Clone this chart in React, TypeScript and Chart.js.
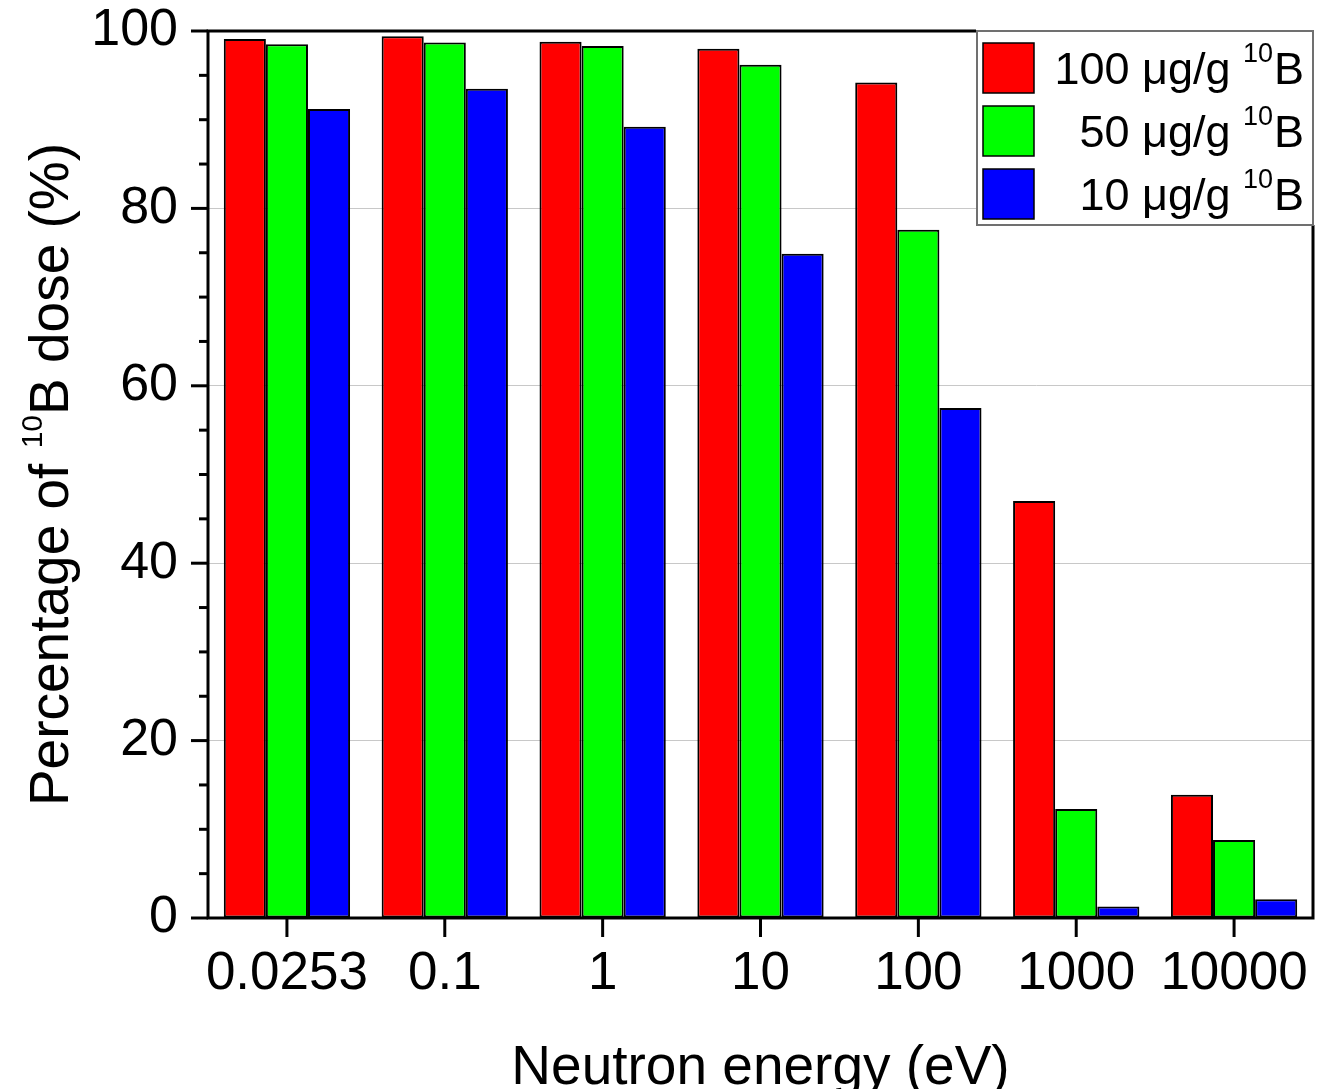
import React, { useEffect, useRef } from "react";
import { Chart, registerables } from "chart.js";

Chart.register(...registerables);

const categories = ["0.0253", "0.1", "1", "10", "100", "1000", "10000"];
const dose100 = [99.1, 99.4, 98.8, 98.0, 94.2, 47.0, 13.9];
const dose50 = [98.5, 98.7, 98.3, 96.2, 77.6, 12.3, 8.8];
const dose10 = [91.2, 93.5, 89.2, 74.9, 57.5, 1.3, 2.1];
const seriesLabels = ["100 μg/g ", "50 μg/g ", "10 μg/g "];
const seriesColors = ["#ff0000", "#00ff00", "#0000ff"];
const yTickValues = [0, 20, 40, 60, 80, 100];

const FONT = "'Liberation Sans', Arial, sans-serif";

const W = 1327;
const H = 1089;

const customPlugin = {
  id: "customDecor",
  afterDraw(chart: any) {
    const { ctx, chartArea: ca, scales } = chart;
    const x = scales.x;
    const y = scales.y;
    ctx.save();
    // frame
    ctx.strokeStyle = "#000";
    ctx.lineWidth = 3;
    ctx.strokeRect(ca.left, ca.top, ca.right - ca.left, ca.bottom - ca.top);
    // y ticks
    ctx.lineWidth = 3;
    for (let v = 0; v <= 100; v += 5) {
      const py = y.getPixelForValue(v);
      const len = v % 20 === 0 ? 17 : 9;
      ctx.beginPath();
      ctx.moveTo(ca.left - len, py);
      ctx.lineTo(ca.left, py);
      ctx.stroke();
    }
    // x ticks
    for (let i = 0; i < categories.length; i++) {
      const px = x.getPixelForValue(i);
      ctx.beginPath();
      ctx.moveTo(px, ca.bottom);
      ctx.lineTo(px, ca.bottom + 19);
      ctx.stroke();
    }
    // x title
    ctx.fillStyle = "#000";
    ctx.font = `55px ${FONT}`;
    ctx.textAlign = "center";
    ctx.textBaseline = "alphabetic";
    ctx.fillText("Neutron energy (eV)", (ca.left + ca.right) / 2, 1084);

    // y title with superscript
    ctx.save();
    ctx.translate(68, (ca.top + ca.bottom) / 2);
    ctx.rotate(-Math.PI / 2);
    ctx.textAlign = "left";
    const p1 = "Percentage of ";
    const sup = "10";
    const p2 = "B dose (%)";
    ctx.font = `55px ${FONT}`;
    const w1 = ctx.measureText(p1).width;
    const w3 = ctx.measureText(p2).width;
    ctx.font = `30px ${FONT}`;
    const w2 = ctx.measureText(sup).width;
    const total = w1 + w2 + w3;
    let cx = -total / 2;
    ctx.font = `55px ${FONT}`;
    ctx.fillText(p1, cx, 0);
    cx += w1;
    ctx.font = `30px ${FONT}`;
    ctx.fillText(sup, cx, -26);
    cx += w2;
    ctx.font = `55px ${FONT}`;
    ctx.fillText(p2, cx, 0);
    ctx.restore();

    // legend
    const lx = 977, ly = 31, lw = 336, lh = 194;
    ctx.fillStyle = "#fff";
    ctx.fillRect(lx - 1, ly - 2, lw + 3, lh + 2);
    ctx.strokeStyle = "#707070";
    ctx.lineWidth = 2;
    ctx.strokeRect(lx, ly, lw, lh);
    const rowCenters = [68, 131, 194];
    const right = 1304;
    for (let i = 0; i < 3; i++) {
      const cy = rowCenters[i];
      ctx.fillStyle = seriesColors[i];
      ctx.fillRect(983, cy - 25, 51, 50);
      ctx.strokeStyle = "#000";
      ctx.lineWidth = 1.5;
      ctx.strokeRect(983, cy - 25, 51, 50);
      const base = cy + 16;
      ctx.fillStyle = "#000";
      ctx.textAlign = "right";
      ctx.font = `45px ${FONT}`;
      const bW = ctx.measureText("B").width;
      ctx.fillText("B", right, base);
      ctx.font = `27px ${FONT}`;
      const sW = ctx.measureText("10").width;
      ctx.fillText("10", right - bW - 1, base - 22);
      ctx.font = `45px ${FONT}`;
      ctx.fillText(seriesLabels[i], right - bW - sW - 1, base);
    }
    ctx.restore();
  },
};

export default function App() {
  const ref = useRef<HTMLCanvasElement | null>(null);
  useEffect(() => {
    if (!ref.current) return;
    const mk = (label: string, data: number[], color: string) => ({
      label,
      data,
      backgroundColor: color,
      borderColor: "#000",
      borderWidth: 2,
      borderSkipped: false,
      categoryPercentage: 0.8,
      barPercentage: 1.0,
    });
    const chart = new Chart(ref.current, {
      type: "bar",
      data: {
        labels: categories,
        datasets: [
          mk("100 μg/g 10B", dose100, seriesColors[0]),
          mk("50 μg/g 10B", dose50, seriesColors[1]),
          mk("10 μg/g 10B", dose10, seriesColors[2]),
        ],
      },
      options: {
        responsive: false,
        animation: false,
        devicePixelRatio: 1,
        layout: { padding: { top: 31, right: 14, left: 0, bottom: 0 } },
        plugins: {
          legend: { display: false },
          tooltip: { enabled: false },
        },
        scales: {
          x: {
            grid: { display: false, drawTicks: false },
            border: { display: false },
            ticks: {
              color: "#000",
              font: { family: FONT, size: 53 },
              padding: 25,
              maxRotation: 0,
              autoSkip: false,
            },
            afterFit: (s: any) => {
              s.height = H - 918;
              s.paddingLeft = 0;
              s.paddingRight = 0;
            },
          },
          y: {
            min: 0,
            max: 100,
            grid: {
              drawTicks: false,
              lineWidth: 1,
              color: (c: any) => {
                const v = c.tick ? c.tick.value : -1;
                return v > 0 && v < 100 && v % 20 === 0 ? "#c8c8c8" : "rgba(0,0,0,0)";
              },
            },
            border: { display: false },
            ticks: {
              stepSize: 5,
              autoSkip: false,
              color: "#000",
              font: { family: FONT, size: 52 },
              padding: 30,
              callback: (v: any) => (yTickValues.includes(Number(v)) ? String(v) : ""),
            },
            afterFit: (s: any) => {
              s.width = 208;
              s.paddingTop = 0;
              s.paddingBottom = 0;
            },
          },
        },
      },
      plugins: [customPlugin],
    } as any);
    return () => chart.destroy();
  }, []);
  return (
    <div style={{ position: "absolute", left: 0, top: 0, width: W, height: H, background: "#fff" }}>
      <canvas ref={ref} width={W} height={H} style={{ display: "block" }} />
    </div>
  );
}
